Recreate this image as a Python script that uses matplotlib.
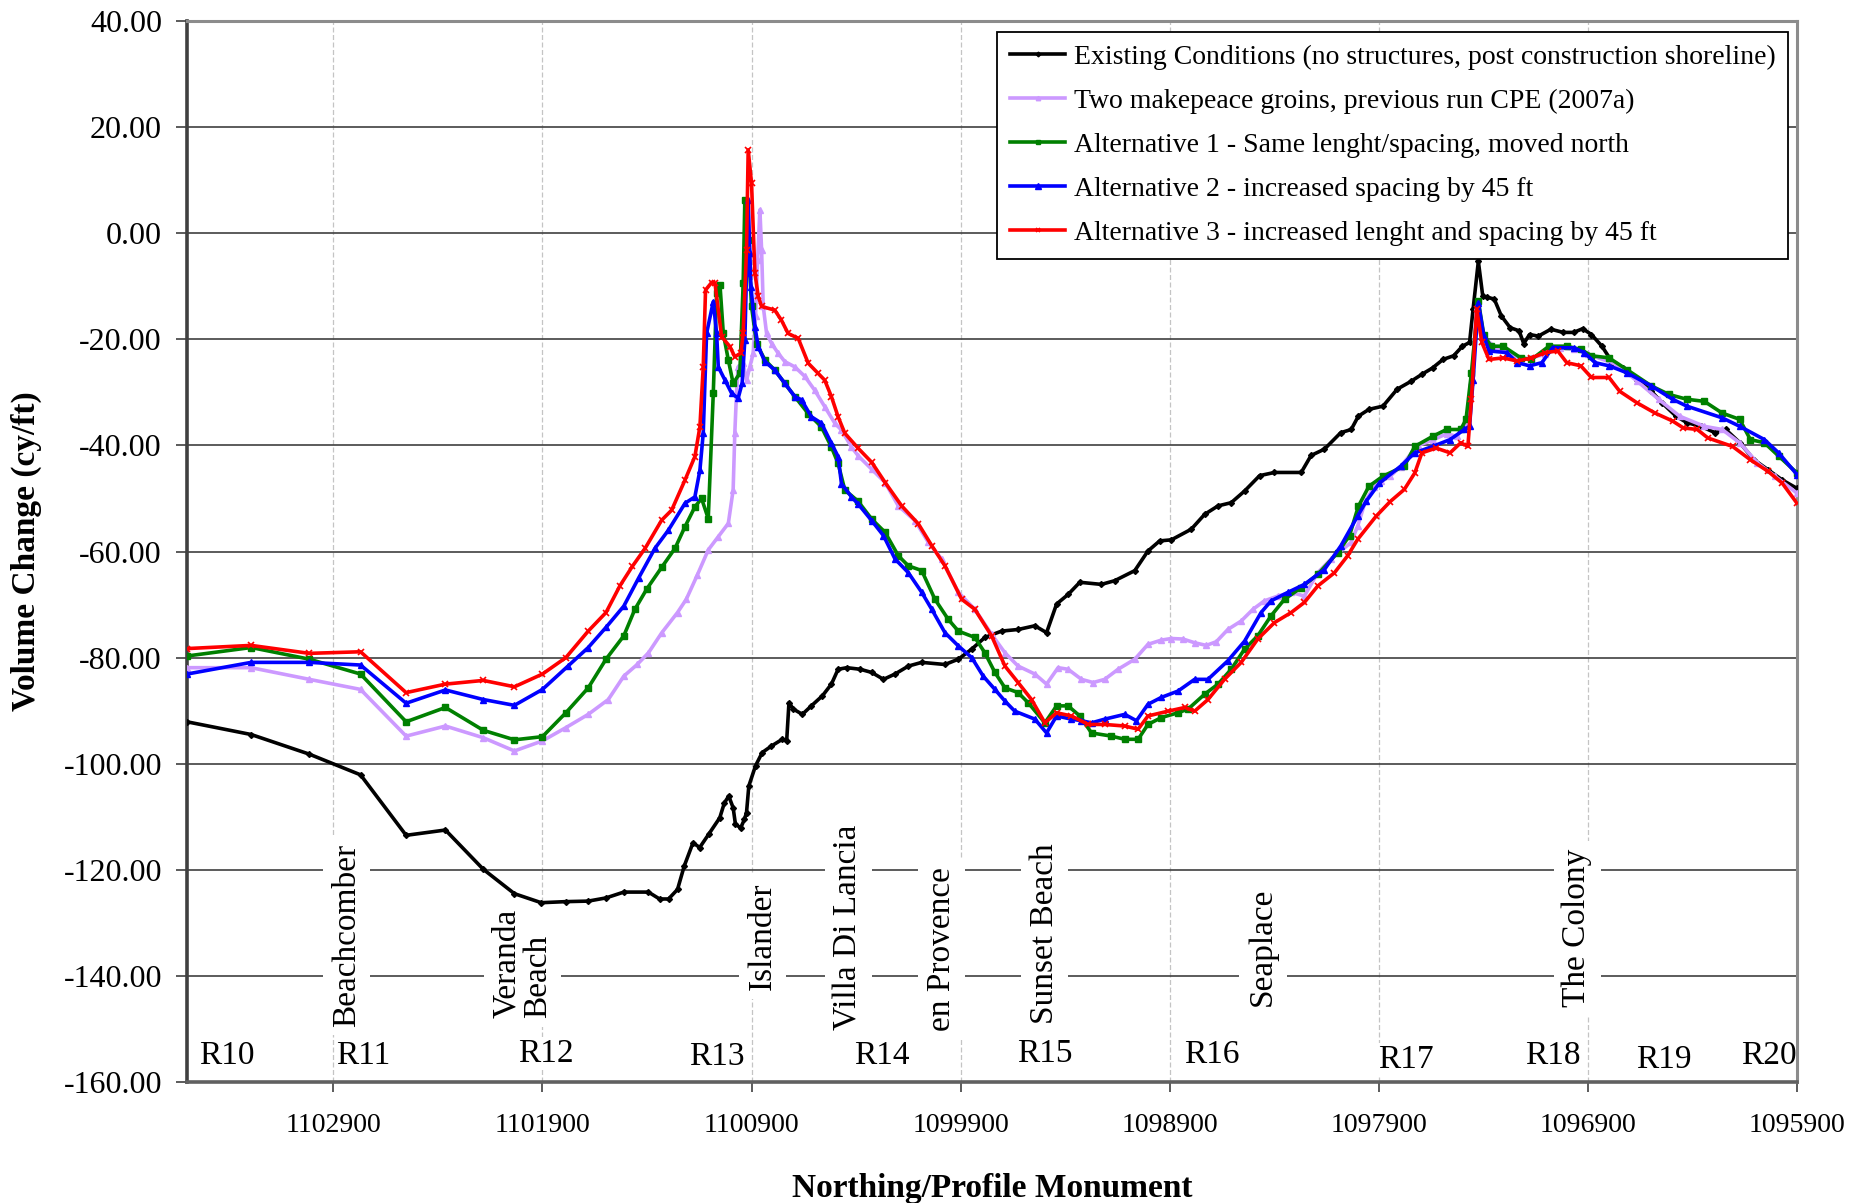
import matplotlib
matplotlib.use("Agg")
import matplotlib.pyplot as plt
import numpy as np

plt.rcParams['font.family'] = ['Liberation Serif', 'DejaVu Serif']

# existing conditions (no structures)
existing_n = [1103600, 1103293, 1103015, 1102770, 1102552, 1102364, 1102183, 1102034, 1101906, 1101788,
              1101681, 1101596, 1101511, 1101393, 1101340, 1101297, 1101254, 1101222, 1101180, 1101148,
              1101105, 1101052, 1101030, 1101009, 1100988, 1100977, 1100952, 1100934, 1100924, 1100913,
              1100881, 1100849, 1100806, 1100753, 1100732, 1100721, 1100700, 1100657, 1100614, 1100561,
              1100518, 1100486, 1100444, 1100380, 1100325, 1100269, 1100214, 1100150, 1100086, 1099975,
              1099911, 1099847, 1099784, 1099704, 1099625, 1099545, 1099489, 1099441, 1099386, 1099330,
              1099227, 1099163, 1099067, 1099004, 1098948, 1098892, 1098797, 1098733, 1098669, 1098606,
              1098542, 1098470, 1098399, 1098271, 1098224, 1098160, 1098082, 1098032, 1097998, 1097947,
              1097880, 1097812, 1097745, 1097694, 1097643, 1097593, 1097542, 1097500, 1097466, 1097449,
              1097424, 1097403, 1097381, 1097348, 1097314, 1097272, 1097229, 1097207, 1097179, 1097137,
              1097077, 1097018, 1096968, 1096925, 1096883, 1096833, 1096782, 1096731, 1096664, 1096596,
              1096545, 1096478, 1096427, 1096360, 1096292, 1096241, 1096173, 1096106, 1096038, 1095971,
              1095900]
existing_v = [-92.1, -94.5, -98.2, -102.1, -113.5, -112.5, -119.9, -124.5, -126.2, -126.0,
              -125.9, -125.3, -124.2, -124.2, -125.5, -125.5, -123.7, -119.3, -114.9, -115.8,
              -113.3, -110.2, -107.4, -106.1, -108.3, -111.4, -112.1, -110.5, -109.2, -104.2,
              -100.4, -97.9, -96.7, -95.4, -95.7, -88.5, -89.7, -90.7, -89.1, -87.2,
              -85.0, -82.2, -81.9, -82.2, -82.8, -84.1, -83.1, -81.6, -80.9, -81.3,
              -80.3, -78.4, -76.2, -75.0, -74.7, -74.0, -75.3, -69.9, -68.1, -65.8,
              -66.2, -65.5, -63.6, -59.9, -58.0, -57.8, -55.8, -53.0, -51.4, -50.8,
              -48.6, -45.7, -45.1, -45.1, -41.9, -40.7, -37.6, -37.0, -34.5, -33.2,
              -32.6, -29.4, -27.9, -26.6, -25.4, -23.8, -23.1, -21.3, -20.6, -14.3,
              -5.3, -11.8, -12.1, -12.4, -15.6, -17.8, -18.4, -20.8, -19.1, -19.4,
              -18.1, -18.7, -18.7, -18.0, -19.1, -21.3, -24.4, -25.4, -27.6, -29.8,
              -32.0, -34.5, -35.7, -36.4, -37.6, -37.0, -39.5, -42.7, -44.6, -46.5,
              -48.1]

# two makepeace groins, previous run CPE (2007a)
makepeace_n = [1103600, 1103293, 1103015, 1102770, 1102552, 1102364, 1102183, 1102034, 1101900, 1101788,
               1101681, 1101585, 1101511, 1101447, 1101393, 1101329, 1101254, 1101212, 1101160, 1101107,
               1101059, 1101011, 1100988, 1100980, 1100972, 1100964, 1100940, 1100924, 1100908, 1100892,
               1100881, 1100871, 1100860, 1100852, 1100844, 1100828, 1100804, 1100773, 1100741, 1100693,
               1100645, 1100598, 1100550, 1100502, 1100470, 1100422, 1100389, 1100325, 1100261, 1100198,
               1100118, 1100054, 1099991, 1099911, 1099832, 1099752, 1099688, 1099625, 1099545, 1099489,
               1099434, 1099386, 1099322, 1099266, 1099211, 1099147, 1099067, 1099004, 1098940, 1098892,
               1098836, 1098781, 1098725, 1098677, 1098622, 1098558, 1098502, 1098447, 1098383, 1098319,
               1098256, 1098192, 1098128, 1098033, 1098001, 1097964, 1097922, 1097888, 1097846, 1097795,
               1097745, 1097711, 1097643, 1097576, 1097525, 1097500, 1097474, 1097457, 1097432, 1097407,
               1097339, 1097272, 1097221, 1097170, 1097103, 1097035, 1096968, 1096917, 1096900, 1096765,
               1096664, 1096562, 1096461, 1096343, 1096258, 1096174, 1096089, 1096005, 1095900]
makepeace_v = [-81.9, -81.9, -84.1, -86.0, -94.8, -92.9, -95.1, -97.6, -95.7, -93.2,
               -90.7, -87.9, -83.5, -81.3, -79.1, -75.3, -71.5, -69.0, -64.5, -59.7,
               -57.2, -54.7, -48.4, -37.7, -30.2, -25.2, -24.5, -27.7, -25.2, -22.6,
               -15.7, -5.0, 4.4, -3.1, -13.8, -18.9, -20.8, -22.6, -24.2, -25.2,
               -27.0, -29.6, -32.7, -35.8, -37.1, -40.3, -42.0, -44.5, -47.0, -51.4,
               -54.2, -58.3, -61.4, -67.7, -70.9, -75.6, -79.1, -81.6, -83.1, -85.0,
               -81.9, -82.2, -84.1, -84.7, -84.1, -82.2, -80.3, -77.5, -76.7, -76.4,
               -76.5, -77.2, -77.7, -77.0, -74.7, -73.1, -70.9, -69.3, -68.4, -67.7,
               -68.4, -64.0, -61.4, -58.3, -55.2, -50.5, -47.8, -46.8, -45.8, -44.0,
               -41.5, -40.0, -39.0, -37.8, -38.3, -36.5, -35.8, -28.0, -14.0, -19.4,
               -21.6, -22.5, -23.8, -23.5, -22.8, -21.6, -21.9, -22.5, -22.8, -24.7,
               -27.9, -31.3, -34.5, -36.4, -37.0, -39.5, -43.3, -45.8, -49.0]

# alternative 1
alt1_n = [1103600, 1103293, 1103015, 1102770, 1102552, 1102364, 1102183, 1102034, 1101900, 1101788,
          1101681, 1101596, 1101511, 1101458, 1101400, 1101330, 1101266, 1101218, 1101171, 1101139,
          1101107, 1101083, 1101067, 1101051, 1101035, 1101011, 1100988, 1100956, 1100940, 1100932,
          1100916, 1100900, 1100876, 1100836, 1100789, 1100741, 1100693, 1100629, 1100566, 1100518,
          1100486, 1100454, 1100391, 1100325, 1100261, 1100198, 1100150, 1100086, 1100023, 1099959,
          1099911, 1099832, 1099784, 1099736, 1099688, 1099625, 1099577, 1099497, 1099441, 1099386,
          1099330, 1099274, 1099179, 1099115, 1099051, 1099004, 1098940, 1098860, 1098812, 1098733,
          1098669, 1098606, 1098542, 1098479, 1098415, 1098351, 1098271, 1098192, 1098096, 1098040,
          1097998, 1097947, 1097880, 1097778, 1097728, 1097643, 1097576, 1097508, 1097483, 1097457,
          1097424, 1097398, 1097364, 1097305, 1097221, 1097170, 1097086, 1097001, 1096934, 1096883,
          1096799, 1096714, 1096596, 1096512, 1096427, 1096343, 1096258, 1096174, 1096123, 1096056,
          1095988, 1095900]
alt1_v = [-79.7, -78.1, -80.3, -83.1, -92.1, -89.4, -93.7, -95.5, -94.9, -90.4,
          -85.7, -80.3, -75.9, -70.9, -67.0, -63.0, -59.4, -55.3, -51.6, -50.0,
          -53.8, -30.2, -11.3, -9.7, -18.9, -23.9, -28.3, -26.4, -9.4, 6.3,
          -1.3, -13.8, -20.8, -23.9, -25.8, -28.3, -30.8, -34.0, -36.5, -40.3,
          -43.4, -48.4, -50.5, -53.9, -56.4, -60.8, -62.7, -63.6, -69.0, -72.8,
          -75.0, -76.2, -79.1, -82.8, -85.7, -86.6, -88.5, -92.3, -89.1, -89.1,
          -91.0, -94.2, -94.8, -95.4, -95.4, -92.6, -91.3, -90.4, -89.7, -86.9,
          -85.0, -82.2, -78.4, -75.9, -72.1, -69.0, -66.8, -64.3, -60.2, -57.0,
          -51.5, -47.7, -45.8, -43.9, -40.2, -38.3, -37.0, -37.0, -35.1, -26.3,
          -12.8, -19.1, -21.3, -21.3, -23.5, -23.8, -21.3, -21.3, -21.9, -23.1,
          -23.5, -25.7, -28.8, -30.4, -31.3, -31.7, -33.9, -35.1, -38.9, -39.5,
          -42.0, -45.2]

# alternative 2
alt2_n = [1103600, 1103293, 1103015, 1102770, 1102552, 1102364, 1102183, 1102034, 1101900, 1101778,
          1101681, 1101596, 1101511, 1101440, 1101362, 1101298, 1101218, 1101171, 1101147, 1101131,
          1101115, 1101083, 1101067, 1101059, 1101027, 1100995, 1100964, 1100945, 1100932, 1100924,
          1100916, 1100908, 1100903, 1100884, 1100868, 1100836, 1100789, 1100741, 1100693, 1100661,
          1100614, 1100566, 1100518, 1100486, 1100470, 1100422, 1100389, 1100325, 1100269, 1100214,
          1100150, 1100086, 1100038, 1099975, 1099911, 1099847, 1099792, 1099736, 1099688, 1099641,
          1099545, 1099489, 1099441, 1099370, 1099322, 1099274, 1099211, 1099115, 1099059, 1099004,
          1098940, 1098860, 1098781, 1098717, 1098622, 1098542, 1098463, 1098415, 1098335, 1098256,
          1098160, 1098081, 1098001, 1097960, 1097897, 1097795, 1097728, 1097643, 1097559, 1097491,
          1097466, 1097449, 1097424, 1097398, 1097373, 1097288, 1097238, 1097179, 1097120, 1097069,
          1096968, 1096917, 1096866, 1096799, 1096714, 1096596, 1096495, 1096427, 1096258, 1096174,
          1096056, 1095988, 1095900]
alt2_v = [-83.1, -80.9, -80.9, -81.4, -88.6, -86.1, -87.9, -89.0, -86.0, -81.6,
          -78.1, -74.3, -70.3, -65.0, -59.4, -56.0, -50.9, -49.7, -44.7, -37.7,
          -18.9, -12.9, -18.9, -25.2, -27.7, -30.2, -31.1, -28.3, -20.1, -7.5,
          6.3, -3.8, -10.1, -17.6, -21.4, -24.2, -25.8, -28.3, -30.8, -31.4,
          -34.6, -35.8, -39.6, -42.1, -47.2, -49.7, -51.1, -54.2, -57.0, -61.4,
          -64.0, -67.7, -70.9, -75.3, -77.8, -80.0, -83.5, -86.0, -88.2, -90.1,
          -91.6, -94.2, -91.0, -91.6, -91.9, -92.3, -91.6, -90.7, -91.9, -88.8,
          -87.5, -86.3, -84.1, -84.1, -80.6, -76.9, -71.5, -69.3, -67.7, -66.2,
          -63.4, -58.9, -53.3, -50.5, -47.1, -43.9, -41.4, -40.2, -38.9, -37.0,
          -36.4, -27.6, -13.1, -19.4, -22.2, -22.5, -24.4, -25.0, -24.4, -21.6,
          -21.6, -22.5, -24.4, -25.0, -26.3, -28.8, -31.3, -32.6, -34.8, -36.4,
          -38.9, -41.4, -45.5]

# alternative 3
alt3_n = [1103600, 1103293, 1103015, 1102770, 1102552, 1102364, 1102183, 1102034, 1101900, 1101788,
          1101681, 1101596, 1101530, 1101470, 1101409, 1101330, 1101282, 1101218, 1101171, 1101147,
          1101131, 1101120, 1101091, 1101075, 1101043, 1101003, 1100980, 1100951, 1100940, 1100924,
          1100916, 1100900, 1100884, 1100868, 1100852, 1100789, 1100757, 1100725, 1100677, 1100629,
          1100582, 1100550, 1100518, 1100486, 1100454, 1100391, 1100325, 1100261, 1100182, 1100102,
          1100038, 1099975, 1099895, 1099832, 1099752, 1099688, 1099625, 1099561, 1099497, 1099441,
          1099370, 1099290, 1099211, 1099115, 1099051, 1099004, 1098908, 1098828, 1098781, 1098717,
          1098638, 1098558, 1098479, 1098399, 1098319, 1098256, 1098192, 1098112, 1098049, 1098001,
          1097914, 1097846, 1097778, 1097728, 1097694, 1097626, 1097559, 1097508, 1097474, 1097457,
          1097432, 1097407, 1097373, 1097305, 1097238, 1097170, 1097103, 1097044, 1097001, 1096934,
          1096883, 1096799, 1096748, 1096664, 1096579, 1096495, 1096444, 1096377, 1096326, 1096208,
          1096123, 1096038, 1095971, 1095900]
alt3_v = [-78.3, -77.7, -79.2, -78.9, -86.6, -85.0, -84.3, -85.5, -83.1, -80.0,
          -75.0, -71.5, -66.5, -62.8, -59.4, -54.1, -52.2, -46.5, -42.1, -36.5,
          -25.2, -10.7, -9.3, -9.4, -19.5, -21.4, -23.3, -22.6, -18.9, -3.1,
          15.7, 9.4, -7.5, -11.9, -13.8, -14.5, -16.4, -18.9, -19.8, -24.5,
          -26.4, -27.7, -30.8, -34.6, -37.7, -40.5, -43.2, -47.0, -51.4, -54.8,
          -58.9, -62.7, -69.0, -70.9, -75.9, -81.6, -84.7, -87.9, -92.3, -90.4,
          -91.0, -92.6, -92.6, -92.9, -93.5, -91.0, -90.1, -89.4, -90.1, -87.9,
          -84.1, -80.9, -76.5, -73.4, -71.5, -69.6, -66.5, -64.0, -60.8, -57.7,
          -53.4, -50.6, -48.3, -45.2, -41.4, -40.5, -41.4, -39.5, -40.2, -31.3,
          -14.3, -20.6, -23.8, -23.5, -24.1, -23.5, -22.5, -22.2, -24.4, -25.0,
          -27.2, -27.2, -29.8, -32.0, -33.9, -35.4, -36.7, -37.0, -38.6, -40.2,
          -42.7, -44.9, -47.1, -50.9]

series_labels = ['Existing Conditions (no structures, post construction shoreline)',
                 'Two makepeace groins, previous run CPE (2007a)',
                 'Alternative 1 - Same lenght/spacing, moved north',
                 'Alternative 2 - increased spacing by 45 ft',
                 'Alternative 3 - increased lenght and spacing by 45 ft']

profile_names = ['R10', 'R11', 'R12', 'R13', 'R14', 'R15', 'R16', 'R17', 'R18', 'R19', 'R20']
profile_n = [1103408, 1102758, 1101883, 1101064, 1100278, 1099499, 1098697, 1097770, 1097070, 1096539, 1096036]
profile_v = [-155.1, -155.1, -154.7, -155.3, -155.1, -154.7, -154.9, -155.8, -155.1, -155.8, -155.1]

place_names = ['Beachcomber', 'Veranda\nBeach', 'Islander', 'Villa Di Lancia', 'en Provence',
               'Sunset Beach', 'Seaplace', 'The Colony']
place_n = [1102837, 1101996, 1100849, 1100437, 1099990, 1099499, 1098454, 1096951]
place_v = [-132.4, -137.7, -132.6, -130.8, -135.0, -132.1, -134.6, -131.0]

fig = plt.figure(figsize=(18.54, 12.03), dpi=100)
ax = fig.add_axes([0.10086, 0.10058, 0.86839, 0.88196])

styles = [
    dict(color='#000000', marker='D', markersize=3),
    dict(color='#CC99FF', marker='^', markersize=4),
    dict(color='#008000', marker='s', markersize=4),
    dict(color='#0000FF', marker='^', markersize=5),
    dict(color='#FF0000', marker='x', markersize=4, markeredgewidth=1.2),
]
data = [(existing_n, existing_v), (makepeace_n, makepeace_v), (alt1_n, alt1_v),
        (alt2_n, alt2_v), (alt3_n, alt3_v)]
for (n, v), lab, st in zip(data, series_labels, styles):
    ax.plot(n, v, lw=2.6, label=lab, zorder=3, **st)

ax.set_xlim(1103600, 1095900)
ax.set_ylim(-160, 40)
ax.set_yticks(np.arange(-160, 41, 20))
ax.set_yticklabels(['%.2f' % t for t in np.arange(-160, 41, 20)])
ax.set_xticks(np.arange(1102900, 1095899, -1000))
ax.set_xticklabels([str(t) for t in np.arange(1102900, 1095899, -1000)])

ax.set_axisbelow(True)
ax.grid(axis='y', color='#404040', lw=1.2)
ax.grid(axis='x', color='#c4c4c4', lw=0.9, ls=(0, (4, 2)))

ax.tick_params(axis='y', direction='out', length=8, width=1.2, pad=10, labelsize=23, color='#404040')
ax.tick_params(axis='x', direction='out', length=7, width=1.2, pad=15, labelsize=20, color='#404040')

for side, col, w in [('left', '#404040', 2.6), ('bottom', '#606060', 2.6),
                     ('top', '#8c8c8c', 2.2), ('right', '#8c8c8c', 2.2)]:
    ax.spines[side].set_color(col)
    ax.spines[side].set_linewidth(w)

ax.set_xlabel('Northing/Profile Monument', fontsize=24, fontweight='bold', va='center')
ax.xaxis.set_label_coords(0.5, -0.1)
ax.set_ylabel('Volume Change (cy/ft)', fontsize=24, fontweight='bold', va='center')
ax.yaxis.set_label_coords(-0.100, 0.5)

for name, n, v in zip(profile_names, profile_n, profile_v):
    ax.text(n, v, name, fontsize=24, ha='center', va='center', zorder=1.5,
            bbox=dict(facecolor='white', edgecolor='none', pad=1))

for name, n, v in zip(place_names, place_n, place_v):
    ax.text(n, v, name, fontsize=24, rotation=90, ha='center', va='center',
            multialignment='left', linespacing=1.0, zorder=1.5,
            bbox=dict(facecolor='white', edgecolor='none', pad=6))

leg = ax.legend(loc='upper right', bbox_to_anchor=(0.9944, 0.9896), borderaxespad=0,
                fontsize=20, frameon=True, fancybox=False, framealpha=1,
                handlelength=2.0, handletextpad=0.3, labelspacing=0.67, borderpad=0.45,
                markerscale=0.8)
leg.get_frame().set_edgecolor('black')
leg.get_frame().set_linewidth(1.3)
leg.set_zorder(5)

fig.savefig('out.png', dpi=100)
